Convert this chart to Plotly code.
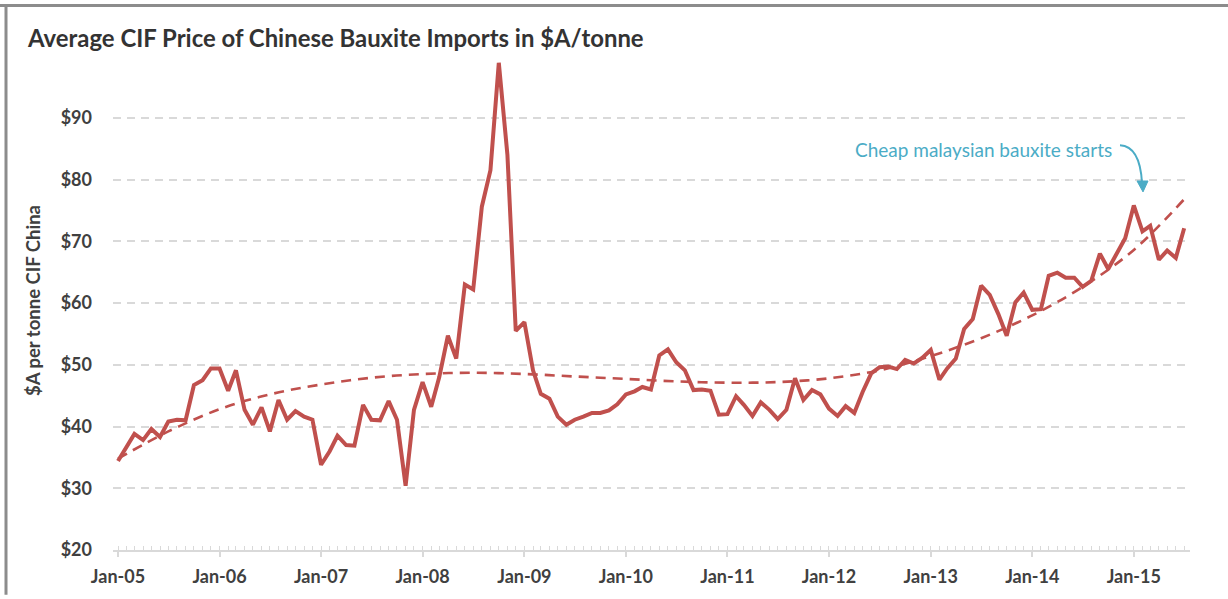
import plotly.graph_objects as go
import pandas as pd

# ---------------- data ----------------
months = pd.date_range("2005-01-01", periods=127, freq="MS")
prices = [
    34.4, 36.6, 38.8, 37.8, 39.6, 38.3, 40.8, 41.1, 41.0, 46.7, 47.5, 49.4,   # 2005
    49.4, 45.8, 49.1, 42.7, 40.3, 43.1, 39.2, 44.3, 41.1, 42.5, 41.6, 41.1,   # 2006
    33.8, 36.0, 38.5, 37.0, 36.9, 43.5, 41.1, 41.0, 44.1, 41.1, 30.4, 42.7,   # 2007
    47.2, 43.2, 48.0, 54.7, 51.0, 63.0, 62.2, 75.6, 81.5, 98.9, 84.0, 55.5,   # 2008
    56.9, 49.1, 45.3, 44.5, 41.6, 40.3, 41.1, 41.6, 42.2, 42.2, 42.6, 43.6,   # 2009
    45.2, 45.7, 46.4, 46.0, 51.5, 52.5, 50.4, 49.1, 45.9, 46.0, 45.8, 41.9,   # 2010
    42.0, 44.9, 43.5, 41.7, 43.9, 42.7, 41.2, 42.7, 47.8, 44.3, 45.9, 45.2,   # 2011
    42.9, 41.7, 43.3, 42.2, 45.6, 48.6, 49.6, 49.7, 49.3, 50.8, 50.2, 51.1,   # 2012
    52.4, 47.6, 49.4, 51.0, 55.8, 57.4, 62.8, 61.3, 58.2, 54.7, 60.1, 61.7,   # 2013
    58.9, 59.0, 64.4, 64.9, 64.1, 64.1, 62.6, 63.6, 68.0, 65.5, 68.1, 70.5,   # 2014
    75.8, 71.6, 72.5, 67.0, 68.5, 67.3, 72.1,                                 # 2015
]
trend_months = months[::6]
trend_values = [34.8, 39.2, 42.8, 45.2, 46.8, 47.9, 48.5, 48.7, 48.5, 48.1, 47.7,
                47.3, 47.1, 47.2, 47.8, 49.1, 51.4, 54.3, 58.0, 62.6, 68.6, 76.8]
year_ticks = pd.date_range("2005-01-01", "2015-01-01", freq="YS")
year_labels = [d.strftime("Jan-%y") for d in year_ticks]
y_ticks = [20, 30, 40, 50, 60, 70, 80, 90]

title_text = "Average CIF Price of Chinese Bauxite Imports in $A/tonne"
y_title = "$A per tonne CIF China"
note_text = "Cheap malaysian bauxite starts"

# ---------------- layout helpers ----------------
W, H = 1228, 599
ML, MR, MT, MB = 113, 38, 56, 45
PW, PH = W - ML - MR, H - MT - MB


def px(x):
    return (x - ML) / PW


def py(y):
    return (H - MB - y) / PH


RED = "#C0504D"
TEAL = "#4BACC6"
TXT = "#404040"
FONT = "Lato"

fig = go.Figure()
fig.add_trace(go.Scatter(x=list(trend_months), y=trend_values, mode="lines",
                         line=dict(color=RED, width=2.6, dash="10px,7px", shape="spline"),
                         hoverinfo="skip", showlegend=False))
fig.add_trace(go.Scatter(x=list(months), y=prices, mode="lines",
                         line=dict(color=RED, width=4), showlegend=False))

fig.update_layout(
    width=W, height=H,
    margin=dict(l=ML, r=MR, t=MT, b=MB),
    paper_bgcolor="white", plot_bgcolor="white",
    font=dict(family=FONT, color=TXT),
    title=dict(text=f"<b>{title_text}</b>", xref="container", yref="container",
               x=28 / W, xanchor="left", y=1 - 39 / H, yanchor="middle",
               font=dict(size=23.9, color="#333333", family=FONT)),
)
fig.update_xaxes(
    type="date",
    range=["2004-12-14", "2015-07-22"],
    tickvals=list(year_ticks), ticktext=[f"<b>{t}</b>" for t in year_labels],
    tickfont=dict(size=18, color=TXT, family=FONT),
    showgrid=False, zeroline=False,
    showline=True, linecolor="#D9D9D9", linewidth=1.5,
    ticks="outside", ticklen=5, tickcolor="#D9D9D9", tickwidth=1.5,
    ticklabelstandoff=5,
    minor=dict(ticks="inside", ticklen=4, tickcolor="#D9D9D9", tickwidth=1,
               dtick="M1", showgrid=False),
)
fig.update_yaxes(
    range=[20, 100],
    tickvals=y_ticks, ticktext=[f"<b>${v}</b>" for v in y_ticks],
    tickfont=dict(size=18, color=TXT, family=FONT),
    showgrid=True, gridcolor="#D9D9D9", gridwidth=1.5, griddash="8px,6px",
    zeroline=False, showline=False, ticks="",
    ticklabelstandoff=20,
)

# axis title
fig.add_annotation(text=f"<b>{y_title}</b>", xref="paper", yref="paper",
                   x=px(33), y=py(303), xanchor="center", yanchor="middle",
                   textangle=-90, showarrow=False,
                   font=dict(size=18.5, color=TXT, family=FONT))

# note
fig.add_annotation(text=note_text, xref="paper", yref="paper",
                   x=px(983), y=py(150), xanchor="center", yanchor="middle",
                   showarrow=False,
                   font=dict(size=19, color=TEAL, family=FONT))
fig.add_shape(type="path", xref="paper", yref="paper",
              path=f"M {px(1120)},{py(146)} Q {px(1140)},{py(147)} {px(1142)},{py(184)}",
              line=dict(color=TEAL, width=2))
fig.add_shape(type="path", xref="paper", yref="paper",
              path=f"M {px(1137)},{py(182)} L {px(1148)},{py(182)} L {px(1143)},{py(193)} Z",
              fillcolor=TEAL, line=dict(color=TEAL, width=1))

# frame
fig.add_shape(type="line", xref="paper", yref="paper",
              x0=px(0), x1=px(W), y0=py(5), y1=py(5),
              line=dict(color="#8C8C8C", width=3))
fig.add_shape(type="line", xref="paper", yref="paper",
              x0=px(6), x1=px(6), y0=py(5), y1=py(H),
              line=dict(color="#8C8C8C", width=3))

fig.write_html("out.html", config={"displayModeBar": False},
               post_script="document.body.style.margin='0';document.body.style.overflow='hidden';")
